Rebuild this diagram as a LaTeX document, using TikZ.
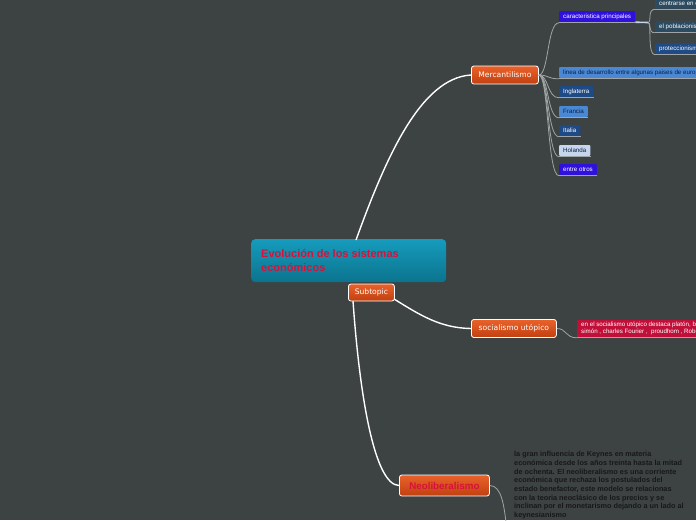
\documentclass[tikz,border=0pt]{standalone}
\usepackage{fontspec}
\setmainfont{Liberation Sans}
\newfontfamily\topicfont{DejaVu Sans}
\definecolor{bgc}{RGB}{61,66,67}
\definecolor{ctop}{RGB}{22,155,188}
\definecolor{cbot}{RGB}{11,116,142}
\definecolor{ctext}{RGB}{214,18,60}
\definecolor{otop}{RGB}{234,98,42}
\definecolor{obot}{RGB}{192,64,16}
\definecolor{violetc}{RGB}{48,16,221}
\definecolor{lblue}{RGB}{74,136,212}
\definecolor{navyc}{RGB}{30,74,134}
\definecolor{palec}{RGB}{198,214,236}
\definecolor{slatec}{RGB}{44,74,96}
\definecolor{redbox}{RGB}{192,16,58}
\definecolor{darktext}{RGB}{12,30,70}
\definecolor{neotext}{RGB}{24,24,24}
\definecolor{linec}{RGB}{160,164,166}
\tikzset{
  topic/.style={draw=white, line width=0.8pt, rounded corners=2.5pt, top color=otop, bottom color=obot,
    text=white, font=\topicfont\fontsize{7.6}{9}\selectfont, inner xsep=5pt, inner ysep=0pt, minimum height=18pt, anchor=west},
  leaf/.style={rounded corners=1pt, font=\fontsize{6.2}{7}\selectfont, inner xsep=4pt, inner ysep=0pt, minimum height=11pt, anchor=west, text=white},
  mainline/.style={draw=white, line width=1.4pt},
  subline/.style={draw=linec, line width=0.8pt},
  shadowline/.style={draw=linec, line width=0.7pt},
}
\begin{document}
\begin{tikzpicture}[x=1pt,y=-1pt]
\useasboundingbox (0,0) rectangle (696,520);
\fill[bgc] (0,0) rectangle (696,520);
\clip (0,0) rectangle (696,520);

% central topic
\node[anchor=north west, minimum width=195pt, minimum height=43pt, rounded corners=4pt,
  top color=ctop, bottom color=cbot, inner sep=0pt] (central) at (251,239) {};
\node[anchor=north west, text=ctext, font=\bfseries\fontsize{11}{13.8}\selectfont, align=left, inner sep=0pt] (ctitle) at (261,249.5)
  {Evolución de los sistemas\\económicos};

% main topics
\node[topic, minimum width=67pt] (merc) at (471,75) {Mercantilismo};
\node[topic, minimum width=85pt] (socia) at (471,328.5) {socialismo utópico};
\node[topic, minimum width=90pt, minimum height=21pt, text=ctext, font=\bfseries\fontsize{9.8}{11}\selectfont] (neo) at (399,485.5) {Neoliberalismo};

% main connectors
\draw[mainline] (356,240) .. controls (385,160) and (420,78) .. (merc.west);
\draw[mainline] (353,301) .. controls (360,400) and (375,485) .. (neo.west);
\draw[mainline] (394,299) .. controls (420,315) and (440,328) .. (socia.west);

\node[topic, minimum width=46pt, minimum height=17pt] (sub) at (348,292.5) {Subtopic};

% Mercantilismo children
\node[leaf, fill=violetc] (carac) at (559,16.5) {caracteristica principales};
\node[leaf, fill=lblue, text=darktext] (linea) at (559,72.5) {linea de desarrollo entre algunas paises de europa};
\node[leaf, fill=navyc] (ingl) at (559,91.5) {Inglaterra};
\node[leaf, fill=lblue, text=darktext] (fran) at (559,111.5) {Francia};
\node[leaf, fill=navyc] (ital) at (559,130.5) {Italia};
\node[leaf, fill=palec, text=darktext] (hola) at (559,150.5) {Holanda};
\node[leaf, fill=violetc] (otros) at (559,169.5) {entre otros};

\foreach \n in {carac,linea,ingl,fran,ital,hola,otros}{
  \draw[shadowline] ([yshift=-0.6pt]\n.south west) -- ([yshift=-0.6pt]\n.south east);
  \draw[subline] (merc.east) .. controls +(10,0) and +(-12,0) .. ([yshift=-0.6pt]\n.south west);
}

% caracteristica children
\node[leaf, fill=slatec] (centr) at (655,3) {centrarse en el oro};
\node[leaf, fill=slatec] (pobla) at (655,26.5) {el poblacionismo};
\node[leaf, fill=navyc] (prote) at (655,48.5) {proteccionismo};
\draw[draw=palec, line width=1.6pt] (carac.south east) -- (648,22.5) coordinate (cfork);
\foreach \n in {centr,pobla,prote}{
  \draw[shadowline] ([yshift=-0.6pt]\n.south west) -- ([yshift=-0.6pt]\n.south east);
  \draw[subline] (cfork) .. controls +(4,0) and +(-8,0) .. ([yshift=-0.6pt]\n.south west);
}

% socialismo child
\node[anchor=west, fill=redbox, text=white, minimum height=17pt, inner xsep=4pt, inner ysep=0pt,
  align=left, font=\fontsize{6.2}{7}\selectfont] (socdet) at (577,328.5)
  {en el socialismo utópico destaca platón, bacon, saint\\simón , charles Fourier ,\ \ proudhom , Robert Owen};
\draw[shadowline] ([yshift=-0.6pt]socdet.south west) -- ([yshift=-0.6pt]socdet.south east);
\draw[subline] (socia.east) .. controls +(10,0) and +(-12,0) .. ([yshift=-0.6pt]socdet.south west);

% Neoliberalismo child
\node[anchor=north west, text=neotext, inner sep=0pt, align=left, font=\bfseries\fontsize{7.3}{8.65}\selectfont] (neodet) at (514,451.5)
  {la gran influencia de Keynes en materia\\
   económica desde los años treinta hasta la mitad\\
   de ochenta. El neoliberalismo es una corriente\\
   económica que rechaza los postulados del\\
   estado benefactor, este modelo se relacionas\\
   con la teoria neoclásico de los precios y se\\
   inclinan por el monetarismo dejando a un lado al\\
   keynesianismo};
\coordinate (neoend) at (506,522);
\draw[subline] (neo.east) .. controls +(12,0) and +(-2,-15) .. (neoend);
\end{tikzpicture}
\end{document}
